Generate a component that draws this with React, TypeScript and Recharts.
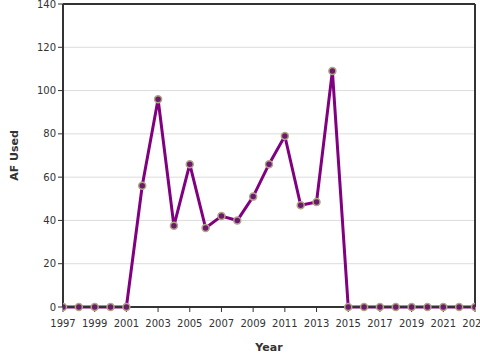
import React from "react";
import { LineChart, Line, XAxis, YAxis, CartesianGrid, ReferenceLine, Label } from "recharts";

const years = [1997,1998,1999,2000,2001,2002,2003,2004,2005,2006,2007,2008,2009,2010,2011,2012,2013,2014,2015,2016,2017,2018,2019,2020,2021,2022,2023];
const afUsed = [0,0,0,0,0,56,96,37.5,66,36.5,42,40,51,66,79,47,48.5,109,0,0,0,0,0,0,0,0,0];
const xTicks = [1997,1999,2001,2003,2005,2007,2009,2011,2013,2015,2017,2019,2021,2023];
const yTicks = [0,20,40,60,80,100,120,140];

const data = years.map((y, i) => ({ year: y, af: afUsed[i] }));

const font = "'DejaVu Sans', sans-serif";
const tickStyle = { fontSize: 10, fill: "#333", fontFamily: font };

export default function App() {
  return (
    <div style={{ position: "absolute", left: 0, top: 0 }}>
      <LineChart width={480} height={360} data={data} margin={{ top: 4, right: 5, bottom: 23, left: 0 }}>
        <CartesianGrid vertical={false} stroke="#dcdcdc" strokeWidth={1} />
        <XAxis
          dataKey="year"
          type="number"
          domain={[1997, 2023]}
          ticks={xTicks}
          interval={0}
          height={30}
          tick={tickStyle}
          tickSize={5}
          tickMargin={8}
          stroke="#333"
          strokeWidth={2}
          tickLine={{ stroke: "#333", strokeWidth: 1 }}
          allowDataOverflow
        >
          <Label value="Year" position="insideBottom" offset={-14} style={{ fontSize: 11, fontWeight: "bold", fill: "#333", fontFamily: font }} />
        </XAxis>
        <YAxis
          domain={[0, 140]}
          ticks={yTicks}
          interval={0}
          width={63}
          tick={tickStyle}
          tickSize={5}
          stroke="#333"
          strokeWidth={2}
          tickLine={{ stroke: "#333", strokeWidth: 1 }}
        >
          <Label value="AF Used" angle={-90} position="insideLeft" offset={14} style={{ fontSize: 11, fontWeight: "bold", fill: "#333", fontFamily: font, textAnchor: "middle" }} />
        </YAxis>
        <ReferenceLine y={140} stroke="#333" strokeWidth={2} />
        <ReferenceLine x={2023} stroke="#333" strokeWidth={2} />
        <Line
          dataKey="af"
          type="linear"
          stroke="#800080"
          strokeWidth={3}
          dot={{ r: 3.5, fill: "#6a1a6a", stroke: "#b3a486", strokeWidth: 1.5 }}
          isAnimationActive={false}
        />
      </LineChart>
    </div>
  );
}
